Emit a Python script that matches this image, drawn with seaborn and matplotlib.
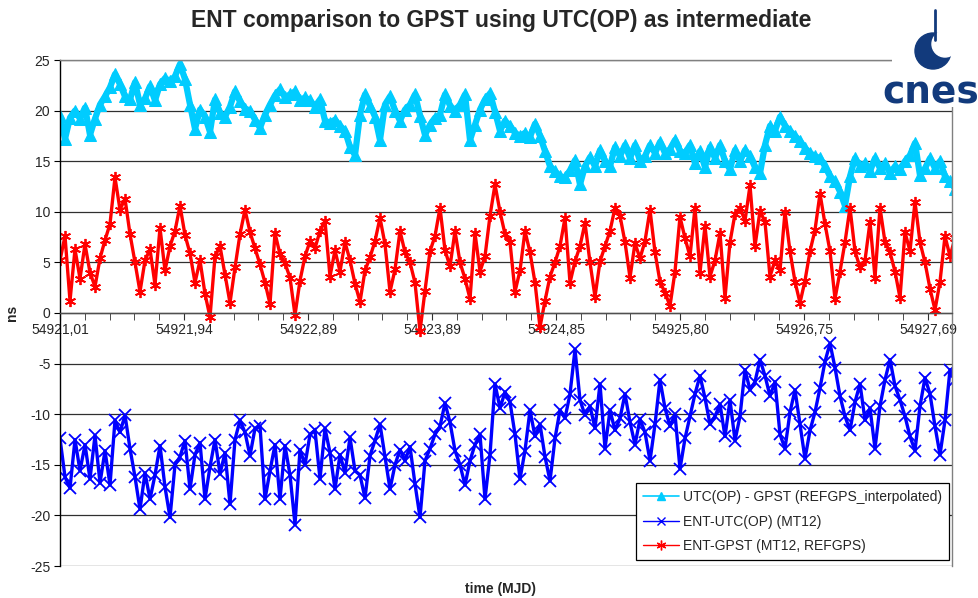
import numpy as np
import pandas as pd
import matplotlib
matplotlib.use("Agg")
import matplotlib.pyplot as plt
from matplotlib.patches import Circle
import seaborn as sns

# tick labels of the category axis (Excel style, one label every 5 minor ticks)
tick_labels = ["54921,01", "54921,94", "54922,89", "54923,89",
               "54924,85", "54925,80", "54926,75", "54927,69"]

# UTC(OP) - GPST (REFGPS_interpolated), ns
utc_gpst = [
    19.5, 17.2, 19.3, 20.0, 19.2, 20.3, 17.6, 19.2, 20.6, 21.4,
    22.3, 23.6, 22.6, 21.4, 21.1, 22.8, 20.6, 21.2, 22.4, 21.0,
    22.6, 23.2, 22.9, 23.4, 24.6, 23.1, 20.6, 18.2, 20.1, 19.4,
    17.9, 21.1, 19.8, 19.4, 20.4, 21.9, 20.9, 20.2, 20.0, 19.1,
    18.3, 19.6, 20.6, 21.5, 22.1, 21.3, 21.6, 21.9, 21.0, 21.3,
    21.0, 20.4, 21.1, 19.0, 18.8, 19.1, 18.5, 18.0, 16.4, 15.6,
    19.6, 21.6, 20.5, 19.4, 17.1, 20.6, 21.4, 20.0, 19.0, 20.1,
    20.6, 21.6, 19.5, 17.6, 18.6, 19.3, 19.6, 21.6, 20.5, 20.0,
    20.6, 21.6, 17.1, 18.6, 20.1, 21.1, 21.7, 19.9, 18.0, 19.0,
    18.5, 17.8, 17.5, 17.8, 17.4, 18.7, 17.5, 16.0, 14.5, 14.0,
    13.5, 13.4, 14.1, 15.1, 12.7, 14.5, 15.4, 14.5, 16.1, 15.0,
    14.5, 16.4, 15.5, 16.6, 15.3, 16.6, 15.0, 15.5, 16.6, 15.8,
    16.9, 15.8, 16.2, 17.1, 16.0, 15.8, 16.6, 14.8, 16.0, 14.4,
    16.4, 15.3, 16.6, 15.0, 14.2, 16.1, 15.0, 16.1, 15.5, 14.4,
    13.8, 16.6, 18.5, 18.0, 19.4, 18.5, 18.0, 17.5, 17.0, 16.3,
    15.8, 15.5, 15.3, 14.5, 13.5, 13.0, 12.0, 10.6, 13.5, 15.3,
    14.5, 14.8, 14.0, 15.3, 14.3, 14.8, 13.8, 14.5, 14.2, 15.0,
    15.6, 16.8, 13.6, 14.3, 15.3, 14.3, 15.0, 13.5, 13.0, 12.3,
]

# ENT-UTC(OP) (MT12), ns
ent_utc = [
    -12.4, -16.2, -17.3, -12.5, -15.6, -13.0, -16.4, -12.1, -16.8, -13.6,
    -17.0, -10.6, -11.8, -10.1, -13.4, -16.2, -19.4, -15.8, -18.4, -16.0,
    -13.1, -17.2, -20.2, -15.0, -14.2, -12.6, -17.4, -14.0, -12.8, -18.4,
    -15.2, -12.5, -15.9, -13.8, -18.9, -12.5, -10.6, -11.8, -14.1, -11.4,
    -11.2, -18.4, -15.6, -13.0, -18.4, -13.1, -16.0, -20.9, -13.5, -15.0,
    -12.0, -11.6, -16.4, -11.4, -13.8, -17.4, -14.0, -15.8, -12.3, -15.6,
    -16.0, -18.3, -14.1, -12.6, -11.0, -14.2, -17.4, -15.0, -13.5, -14.6,
    -13.2, -16.9, -20.2, -14.6, -13.4, -12.0, -11.2, -8.9, -10.8, -13.6,
    -15.0, -17.0, -14.6, -13.0, -12.0, -18.4, -14.0, -7.0, -9.4, -7.8,
    -8.8, -12.0, -16.4, -13.6, -9.6, -12.2, -11.0, -14.2, -16.6, -12.4,
    -9.6, -10.4, -8.0, -3.6, -8.6, -10.1, -9.2, -11.4, -7.0, -13.4,
    -9.6, -11.6, -10.4, -8.0, -10.8, -13.0, -10.5, -11.8, -14.6, -11.0,
    -6.6, -9.4, -11.2, -10.0, -15.4, -12.4, -10.2, -8.0, -6.2, -8.4,
    -11.0, -10.2, -9.0, -12.2, -8.6, -12.6, -10.2, -5.6, -7.6, -6.8,
    -4.6, -6.2, -8.2, -6.8, -12.0, -13.4, -9.8, -7.6, -11.0, -14.4,
    -11.6, -9.8, -7.4, -4.8, -3.0, -5.4, -8.2, -10.2, -11.6, -8.8,
    -7.0, -10.6, -9.4, -13.4, -9.2, -6.6, -4.6, -7.2, -8.6, -10.2,
    -12.2, -13.6, -9.2, -6.4, -8.0, -11.2, -14.0, -10.6, -5.6, -6.6,
]

# ENT-GPST (MT12, REFGPS), ns
ent_gpst = [
    5.2, 7.6, 1.2, 6.3, 3.4, 6.8, 4.0, 2.6, 5.4, 7.2,
    8.8, 13.4, 10.2, 11.3, 7.8, 5.0, 2.1, 5.2, 6.3, 2.8,
    8.4, 4.2, 6.6, 8.1, 10.6, 7.7, 5.9, 3.0, 5.2, 1.9,
    -0.4, 5.6, 6.6, 3.8, 1.0, 4.5, 7.8, 10.2, 8.0, 6.4,
    4.8, 3.0, 0.9, 7.9, 5.8, 4.9, 3.5, -0.2, 3.2, 5.6,
    7.1, 6.4, 8.1, 9.1, 3.6, 6.2, 4.1, 7.0, 5.2, 2.9,
    1.1, 4.2, 5.5, 7.1, 9.4, 6.8, 2.1, 4.3, 8.1, 6.0,
    5.0, 3.0, -1.8, 2.2, 6.1, 7.6, 10.4, 6.2, 4.6, 8.1,
    5.0, 3.4, 1.4, 7.9, 4.1, 5.6, 9.6, 12.7, 10.0, 7.8,
    7.0, 2.1, 4.2, 8.1, 6.0, 3.0, -1.4, 1.2, 3.6, 5.0,
    6.6, 9.4, 3.0, 5.1, 6.6, 8.9, 5.0, 1.6, 5.1, 6.6,
    8.1, 10.4, 9.6, 7.0, 3.5, 6.9, 5.4, 7.1, 10.2, 6.0,
    3.1, 2.0, 0.7, 4.1, 9.5, 7.4, 5.6, 10.4, 4.0, 8.6,
    3.6, 5.2, 7.9, 1.5, 7.0, 9.8, 10.4, 9.1, 12.6, 6.6,
    10.1, 9.0, 3.6, 5.2, 4.2, 10.0, 6.1, 3.1, 1.0, 3.2,
    6.1, 8.2, 11.8, 8.8, 6.1, 1.4, 4.1, 7.0, 10.4, 6.1,
    4.5, 5.2, 9.0, 3.5, 10.4, 7.0, 6.0, 4.1, 1.5, 8.0,
    6.1, 11.0, 7.0, 5.0, 2.4, 0.3, 3.1, 7.6, 5.6, 7.4,
]

sample = np.arange(len(utc_gpst))
df = pd.DataFrame({"sample": sample, "utc_gpst": utc_gpst,
                   "ent_utc": ent_utc, "ent_gpst": ent_gpst})

sns.set_style("white")
plt.rcParams["font.family"] = ["Liberation Sans", "DejaVu Sans"]
plt.rcParams["axes.unicode_minus"] = False

fig = plt.figure(figsize=(9.79, 5.98), dpi=100)
W, H = 979, 598
ax = fig.add_axes([60 / W, 1 - 566 / H, (952 - 60) / W, (566 - 60) / H])

# thick strokes stand in for the very dense sampling of the original
sns.lineplot(data=df, x="sample", y="utc_gpst", ax=ax, color="#00CCFF",
             marker="^", markersize=8, markeredgecolor="#00CCFF",
             lw=4.5, legend=False)
sns.lineplot(data=df, x="sample", y="ent_utc", ax=ax, color="#0000FF",
             marker="x", markersize=8, markeredgecolor="#0000FF",
             markeredgewidth=1.3, lw=2.4, legend=False)
sns.lineplot(data=df, x="sample", y="ent_gpst", ax=ax, color="#FF0000",
             marker=(6, 2, 0), markersize=8, markeredgecolor="#FF0000",
             markeredgewidth=1.3, lw=2.4, legend=False)

# legend handles drawn with the thin original style
h1, = ax.plot([], [], color="#00CCFF", marker="^", markersize=6, lw=1.2,
              label="UTC(OP) - GPST (REFGPS_interpolated)")
h2, = ax.plot([], [], color="#0000FF", marker="x", markersize=6, mew=1.0,
              lw=1.0, label="ENT-UTC(OP) (MT12)")
h3, = ax.plot([], [], color="#FF0000", marker=(6, 2, 0), markersize=7,
              mew=1.0, lw=1.0, label="ENT-GPST (MT12, REFGPS)")

# axis ranges and ticks
step = 124 / 5.0  # samples between labelled ticks
ax.set_xlim(0, (952 - 60) / 5.0)
ax.set_ylim(-25, 25)
ax.set_yticks(np.arange(-25, 26, 5))
ax.set_xticks(np.arange(len(tick_labels)) * step)
ax.set_xticklabels(tick_labels)
ax.set_xticks(np.arange(0, 36) * step / 5, minor=True)
ax.set_xlabel("")
ax.set_ylabel("")

ax.yaxis.grid(True, color="#303030", lw=0.9)
ax.set_axisbelow(True)
ax.spines["bottom"].set_position(("data", 0))
ax.spines["bottom"].set_color("#505050")
ax.spines["left"].set_color("black")
ax.spines["top"].set_color("#808080")
ax.spines["right"].set_color("#808080")
for s in ax.spines.values():
    s.set_linewidth(1.0)
ax.tick_params(axis="x", which="both", direction="out", length=5,
               color="#303030", labelsize=10, pad=2, bottom=True)
ax.tick_params(axis="y", direction="out", length=4, color="black",
               labelsize=10, pad=3, left=True)

leg = ax.legend(handles=[h1, h2, h3], loc="lower right",
                bbox_to_anchor=(0.9966, 0.012), borderaxespad=0,
                fancybox=False, framealpha=1, edgecolor="black", fontsize=10,
                handlelength=2.6, labelspacing=0.75, borderpad=0.5,
                handletextpad=0.3)
leg.get_frame().set_linewidth(0.9)

fig.text(501 / W, 1 - 21 / H, "ENT comparison to GPST using UTC(OP) as intermediate",
         ha="center", va="center", fontsize=16.5, fontweight="bold")
fig.text(12 / W, 1 - 313 / H, "ns", rotation=90, ha="center", va="center",
         fontsize=10, fontweight="bold")
fig.text(501 / W, 1 - 589 / H, "time (MJD)", ha="center", va="center",
         fontsize=10, fontweight="bold")

# cnes logo in the top right corner
logo = fig.add_axes([892 / W, 1 - 107 / H, 87 / W, 107 / H])
logo.set_xlim(892, 979)
logo.set_ylim(107, 0)
logo.set_facecolor("white")
for s in logo.spines.values():
    s.set_visible(False)
logo.set_xticks([])
logo.set_yticks([])
navy = "#123a7c"
logo.add_patch(Circle((933, 51), 18, color=navy))
logo.add_patch(Circle((945, 44), 13, color="white"))
logo.plot([935, 935], [10, 40], color=navy, lw=2)
logo.text(931, 104, "cnes", ha="center", va="baseline", color=navy,
          fontsize=27, fontweight="bold", family="DejaVu Sans")

fig.savefig("out.png", dpi=100)
